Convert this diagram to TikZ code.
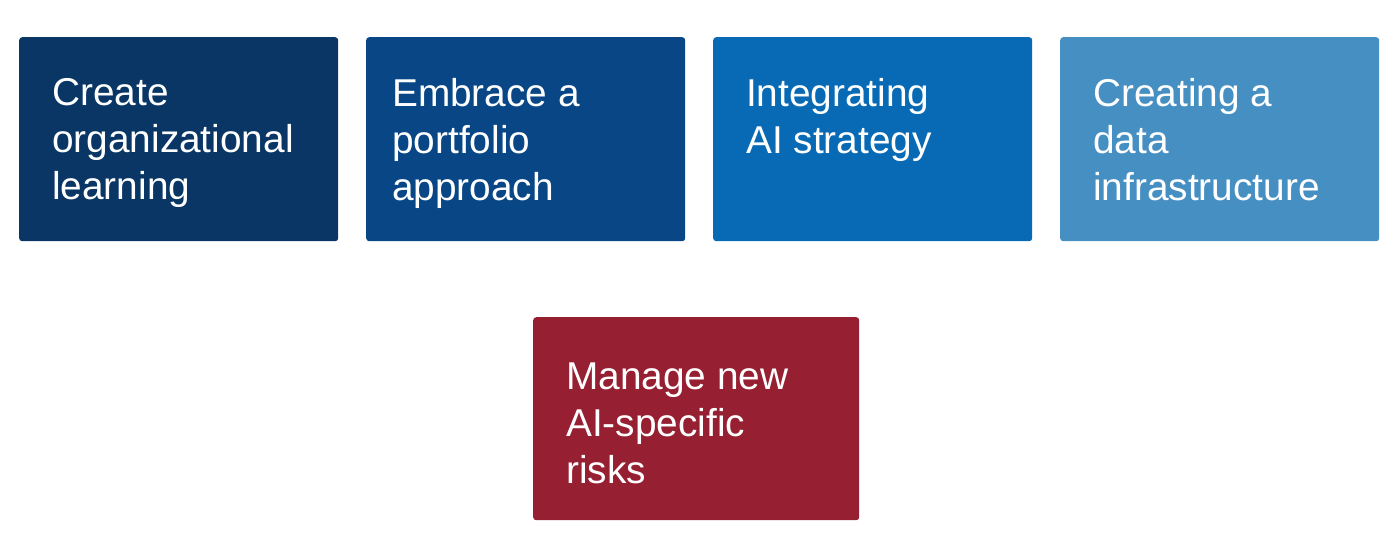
\documentclass[tikz,border=0pt]{standalone}
\usepackage{fontspec}
\setmainfont{Liberation Sans}
\usetikzlibrary{positioning}
\definecolor{navyone}{RGB}{9,54,100}
\definecolor{navytwo}{RGB}{8,70,133}
\definecolor{bluethree}{RGB}{8,106,180}
\definecolor{bluefour}{RGB}{70,143,195}
\definecolor{redfive}{RGB}{150,31,50}
\begin{document}
\begin{tikzpicture}[x=1pt, y=-1pt, node distance={27.6pt}, box/.style = {rounded corners=3pt, minimum width=319pt, minimum height=204pt, inner sep=0pt}, txt/.style = {text=white, align=left, anchor=north west, inner sep=0pt, font=\fontsize{38.8}{47}\selectfont}]
		\useasboundingbox (0,0) rectangle (1400,547);
		\node[box, fill=navyone, anchor=north west] (1) at (19,37) {};
		\node[box, fill=navytwo] (2) [right=of 1] {};
		\node[box, fill=bluethree] (3) [right=of 2] {};
		\node[box, fill=bluefour] (4) [right=of 3] {};
		\node[box, fill=redfive, anchor=north west, minimum width=326pt, minimum height=203pt] (5) at (533,317) {};
		\node[txt] (t1) at ([shift={(33pt,-41pt)}]1.north west) {Create\\organizational\\learning};
		\node[txt] (t2) at ([shift={(26pt,-41pt)}]2.north west) {Embrace a\\portfolio\\approach};
		\node[txt] (t3) at ([shift={(33pt,-41pt)}]3.north west) {Integrating\\AI strategy};
		\node[txt] (t4) at ([shift={(33pt,-41pt)}]4.north west) {Creating a\\data\\infrastructure};
		\node[txt] (t5) at ([shift={(33pt,-46pt)}]5.north west) {Manage new\\AI-specific\\risks};
	\end{tikzpicture}
\end{document}
